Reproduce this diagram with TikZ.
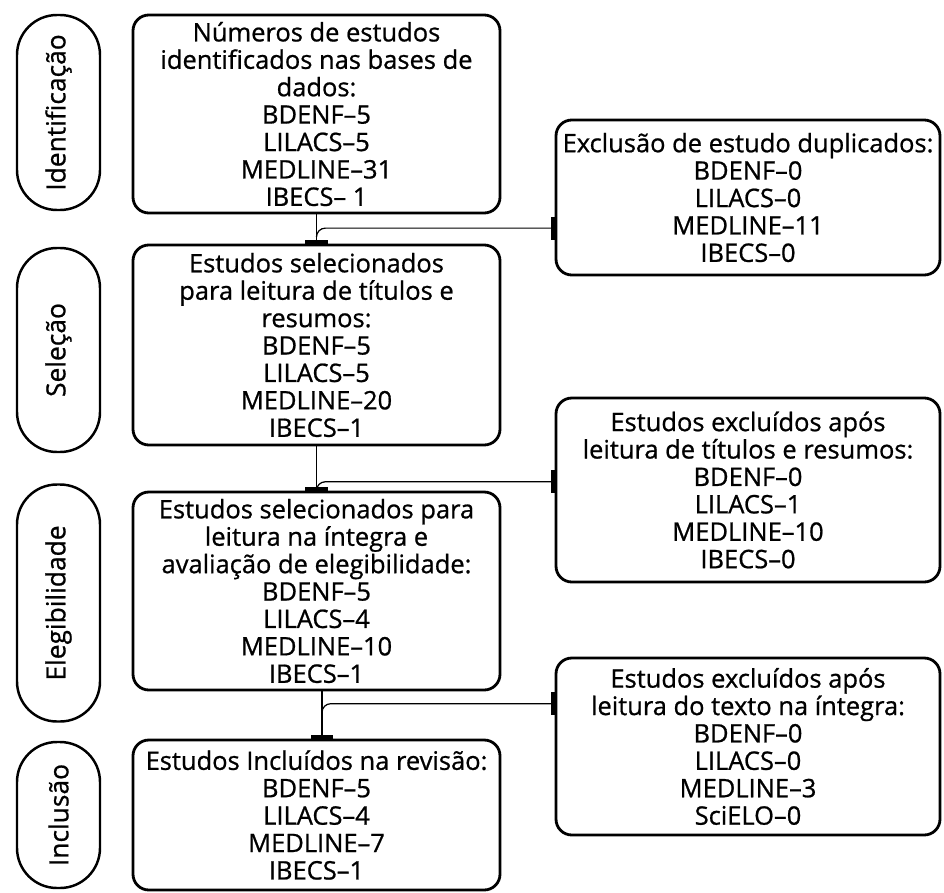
\documentclass[tikz,border=0pt]{standalone}
\usepackage{fontspec}
\setmainfont{Open Sans}[FakeBold=0.8]
\usetikzlibrary{arrows.meta,calc,positioning}

\begin{document}
\begin{tikzpicture}[
  box/.style={draw, line width=1.6pt, rounded corners=9pt, align=center, inner sep=2pt,
    font=\fontsize{14.5}{15.6}\selectfont},
  fase/.style={draw, line width=1.4pt, rounded corners=0.8cm, rotate=90, minimum height=1.66cm,
    font=\fontsize{15}{16}\selectfont},
  seta/.style={line width=0.7pt, -{Bar[width=13pt,line width=2.2pt]}}]

\useasboundingbox (0,0) rectangle (18.88,-17.84);

% Fases
\node[fase, minimum width=3.9cm] (fid) at (1.17,-2.25) {Identificação};
\node[fase, minimum width=4.08cm] (fsel) at (1.17,-7.0) {Seleção};
\node[fase, minimum width=4.74cm] (feleg) at (1.17,-12.06) {Elegibilidade};
\node[fase, minimum width=2.92cm] (finc) at (1.17,-16.3) {Inclusão};

% Caixas principais
\node[box, minimum width=7.34cm, minimum height=3.96cm] (ident) at (6.33,-2.28)
  {Números de estudos\\identificados nas bases de\\dados:\\BDENF--5\\LILACS--5\\MEDLINE--31\\IBECS-- 1};
\node[box, minimum width=7.34cm, minimum height=4.0cm] (sel) at (6.33,-6.9)
  {Estudos selecionados\\para leitura de títulos e\\resumos:\\BDENF--5\\LILACS--5\\MEDLINE--20\\IBECS--1};
\node[box, minimum width=7.34cm, minimum height=3.96cm] (eleg) at (6.33,-11.82)
  {Estudos selecionados para\\leitura na íntegra e\\avaliação de elegibilidade:\\BDENF--5\\LILACS--4\\MEDLINE--10\\IBECS--1};
\node[box, minimum width=7.34cm, minimum height=3.0cm] (inc) at (6.33,-16.3)
  {Estudos Incluídos na revisão:\\BDENF--5\\LILACS--4\\MEDLINE--7\\IBECS--1};

% Caixas de exclusao
\node[box, minimum width=7.68cm, minimum height=3.1cm] (dup) at (14.96,-3.95)
  {Exclusão de estudo duplicados:\\BDENF--0\\LILACS--0\\MEDLINE--11\\IBECS--0};
\node[box, minimum width=7.68cm, minimum height=3.68cm] (exres) at (14.96,-9.8)
  {Estudos excluídos após\\leitura de títulos e resumos:\\BDENF--0\\LILACS--1\\MEDLINE--10\\IBECS--0};
\node[box, minimum width=7.68cm, minimum height=3.54cm] (extex) at (14.96,-14.93)
  {Estudos excluídos após\\leitura do texto na íntegra:\\BDENF--0\\LILACS--0\\MEDLINE--3\\SciELO--0};

% Pontos de ramificacao
\coordinate (k1) at ($(ident.south)!0.47!(sel.north)$);
\coordinate (k2) at ($(sel.south)!0.8!(eleg.north)$);
\coordinate (k3) at ($(eleg.south)!0.26!(inc.north)+(0.11,0)$);

% Fluxo principal
\draw[seta] (ident.south) -- (sel.north);
\draw[seta] (sel.south) -- (eleg.north);
\draw[seta] ($(eleg.south)+(0.11,0)$) -- ($(inc.north)+(0.11,0)$);

% Exclusoes
\draw[seta, rounded corners=5pt] ($(k1)+(0,-0.16)$) |- (k1 -| dup.west);
\draw[seta, rounded corners=5pt] ($(k2)+(0,-0.1)$) |- (k2 -| exres.west);
\draw[seta, rounded corners=5pt] ($(k3)+(0,-0.16)$) |- (k3 -| extex.west);

\end{tikzpicture}
\end{document}
